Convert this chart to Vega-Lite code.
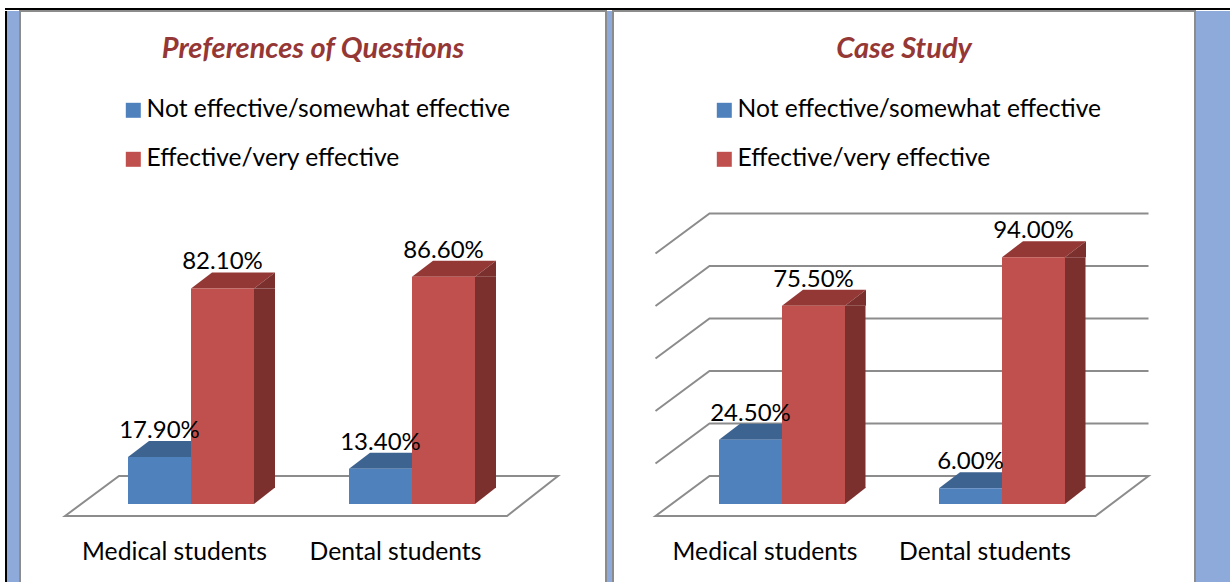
{
"$schema":"https://vega.github.io/schema/vega-lite/v6.json",
"padding":{"left":5,"top":8,"right":0,"bottom":0},
"background":"white",
"config":{"view":{"stroke":null},"concat":{"spacing":0},"font":"Lato"},
"datasets":{
"questions":[
{"group":"Medical students","series":"Not effective/somewhat effective","value":0.179},
{"group":"Medical students","series":"Effective/very effective","value":0.821},
{"group":"Dental students","series":"Not effective/somewhat effective","value":0.134},
{"group":"Dental students","series":"Effective/very effective","value":0.866}],
"caseStudy":[
{"group":"Medical students","series":"Not effective/somewhat effective","value":0.245},
{"group":"Medical students","series":"Effective/very effective","value":0.755},
{"group":"Dental students","series":"Not effective/somewhat effective","value":0.06},
{"group":"Dental students","series":"Effective/very effective","value":0.94}],
"floorOnly":[{"group":"Medical students","value":0}],
"gridLevels":[{"group":"Medical students","value":0.2},{"group":"Medical students","value":0.4},{"group":"Medical students","value":0.6},{"group":"Medical students","value":0.8},{"group":"Medical students","value":1}]
},
"vconcat":[
{"data":{"values":[]},"mark":"point","width":1225,"height":2,"view":{"fill":"black","stroke":null}},
{"hconcat":[
{"data":{"values":[]},"mark":"point","width":2,"height":572,"view":{"fill":"black","stroke":null}},
{"data":{"values":[]},"mark":"point","width":12,"height":572,"view":{"fill":"#8EAADB","stroke":null}},
{"width":586,"height":572,"view":{"fill":"white","stroke":"#8c8c8c","strokeWidth":2},
"data":{"name":"questions"},
"title":{"text":"Preferences of Questions","offset":-53,"fontSize":29,"fontWeight":"bold","fontStyle":"italic","color":"#953735","font":"Lato"},
"encoding":{
"x":{"field":"group","type":"nominal","sort":["Medical students","Dental students"],"scale":{"range":[45,487],"paddingInner":0,"paddingOuter":0},
"axis":{"title":null,"orient":"bottom","domain":false,"ticks":false,"grid":false,"labelAngle":0,"labelFontSize":24.7,"labelColor":"black","labelFont":"Lato","labelBaseline":"top","labelPadding":0,"offset":-44,"labelOffset":-1,"labelLimit":400}},
"xOffset":{"field":"series","type":"nominal","sort":["Not effective/somewhat effective","Effective/very effective"],"scale":{"range":[63,189],"paddingInner":0,"paddingOuter":0}},
"y":{"field":"value","type":"quantitative","scale":{"domain":[0,1],"range":[493,230.5],"nice":false,"zero":true},"axis":null}
},
"layer":[
{"data":{"name":"floorOnly"},"mark":{"type":"point","shape":"M-110.5,12L-56.5,-28L382.5,-28L331.5,12Z","size":4,"filled":false,"stroke":"#8c8c8c","strokeWidth":2,"opacity":1},"encoding":{"xOffset":null}},
{"transform":[{"filter":"datum.series==='Not effective/somewhat effective'"}],"mark":{"type":"point","shape":"M-31.5,0L31.5,0L52.5,-16L-10.5,-16Z","size":4,"filled":true,"fill":"#3D6390","opacity":1,"strokeWidth":0}},
{"transform":[{"filter":"datum.series==='Effective/very effective'"}],"mark":{"type":"point","shape":"M-31.5,0L31.5,0L52.5,-16L-10.5,-16Z","size":4,"filled":true,"fill":"#943835","opacity":1,"strokeWidth":0}},
{"transform":[{"filter":"datum.series==='Effective/very effective'"}],"mark":{"type":"point","shape":"M31.5,0L52.5,-16L52.5,0Z","size":4,"filled":true,"fill":"#7B302E","opacity":1,"strokeWidth":0}},
{"transform":[{"filter":"datum.series==='Effective/very effective'"}],"mark":{"type":"point","shape":"M31.5,-16.5L52.5,-16.5L31.5,0Z","size":4,"filled":true,"fill":"#7B302E","opacity":1,"strokeWidth":0},"encoding":{"y":{"datum":0,"type":"quantitative"}}},
{"transform":[{"filter":"datum.series==='Effective/very effective'"}],"mark":{"type":"bar","width":21,"xOffset":89,"y2Offset":-16,"fill":"#7B302E"},"encoding":{"xOffset":null,"y2":{"datum":0}}},
{"mark":{"type":"bar"},"encoding":{"y2":{"datum":0},
"color":{"field":"series","type":"nominal","sort":["Not effective/somewhat effective","Effective/very effective"],"scale":{"domain":["Not effective/somewhat effective","Effective/very effective"],"range":["#4F81BD","#C0504D"]},
"legend":{"title":null,"orient":"none","legendX":101,"legendY":87,"symbolType":"square","symbolSize":225,"symbolStrokeWidth":0,"labelFontSize":24.6,"labelFont":"Lato","labelColor":"black","labelOffset":1,"rowPadding":24,"labelLimit":500,"padding":0}}}},
{"mark":{"type":"text","fontSize":24,"font":"Lato","color":"black","baseline":"middle","dy":-26},"encoding":{"text":{"field":"value","type":"quantitative","format":".2%"}}}
]},
{"data":{"values":[]},"mark":"point","width":5,"height":572,"view":{"fill":"#8EAADB","stroke":null}},
{"width":582,"height":572,"view":{"fill":"white","stroke":"#8c8c8c","strokeWidth":2},
"data":{"name":"caseStudy"},
"title":{"text":"Case Study","offset":-53,"fontSize":29,"fontWeight":"bold","fontStyle":"italic","color":"#953735","font":"Lato"},
"encoding":{
"x":{"field":"group","type":"nominal","sort":["Medical students","Dental students"],"scale":{"range":[43,483],"paddingInner":0,"paddingOuter":0},
"axis":{"title":null,"orient":"bottom","domain":false,"ticks":false,"grid":false,"labelAngle":0,"labelFontSize":24.7,"labelColor":"black","labelFont":"Lato","labelBaseline":"top","labelPadding":0,"offset":-44,"labelOffset":-1,"labelLimit":400}},
"xOffset":{"field":"series","type":"nominal","sort":["Not effective/somewhat effective","Effective/very effective"],"scale":{"range":[63,189],"paddingInner":0,"paddingOuter":0}},
"y":{"field":"value","type":"quantitative","scale":{"domain":[0,1],"range":[493,230.5],"nice":false,"zero":true},"axis":null}
},
"layer":[
{"data":{"name":"floorOnly"},"mark":{"type":"point","shape":"M-110.5,12L-56.5,-28L382.5,-28L329.5,12Z","size":4,"filled":false,"stroke":"#8c8c8c","strokeWidth":2,"opacity":1},"encoding":{"xOffset":null}},
{"data":{"name":"gridLevels"},"mark":{"type":"point","shape":"M-110.5,12L-56.5,-28L382.5,-28","size":4,"filled":false,"stroke":"#8c8c8c","strokeWidth":2,"opacity":1},"encoding":{"xOffset":null}},
{"transform":[{"filter":"datum.series==='Not effective/somewhat effective'"}],"mark":{"type":"point","shape":"M-31.5,0L31.5,0L52.5,-16L-10.5,-16Z","size":4,"filled":true,"fill":"#3D6390","opacity":1,"strokeWidth":0}},
{"transform":[{"filter":"datum.series==='Effective/very effective'"}],"mark":{"type":"point","shape":"M-31.5,0L31.5,0L52.5,-16L-10.5,-16Z","size":4,"filled":true,"fill":"#943835","opacity":1,"strokeWidth":0}},
{"transform":[{"filter":"datum.series==='Effective/very effective'"}],"mark":{"type":"point","shape":"M31.5,0L52.5,-16L52.5,0Z","size":4,"filled":true,"fill":"#7B302E","opacity":1,"strokeWidth":0}},
{"transform":[{"filter":"datum.series==='Effective/very effective'"}],"mark":{"type":"point","shape":"M31.5,-16.5L52.5,-16.5L31.5,0Z","size":4,"filled":true,"fill":"#7B302E","opacity":1,"strokeWidth":0},"encoding":{"y":{"datum":0,"type":"quantitative"}}},
{"transform":[{"filter":"datum.series==='Effective/very effective'"}],"mark":{"type":"bar","width":21,"xOffset":89,"y2Offset":-16,"fill":"#7B302E"},"encoding":{"xOffset":null,"y2":{"datum":0}}},
{"mark":{"type":"bar"},"encoding":{"y2":{"datum":0},
"color":{"field":"series","type":"nominal","sort":["Not effective/somewhat effective","Effective/very effective"],"scale":{"domain":["Not effective/somewhat effective","Effective/very effective"],"range":["#4F81BD","#C0504D"]},
"legend":{"title":null,"orient":"none","legendX":99,"legendY":87,"symbolType":"square","symbolSize":225,"symbolStrokeWidth":0,"labelFontSize":24.6,"labelFont":"Lato","labelColor":"black","labelOffset":1,"rowPadding":24,"labelLimit":500,"padding":0}}}},
{"mark":{"type":"text","fontSize":24,"font":"Lato","color":"black","baseline":"middle","dy":-26},"encoding":{"text":{"field":"value","type":"quantitative","format":".2%"}}}
]
},
{"data":{"values":[]},"mark":"point","width":37,"height":572,"view":{"fill":"#8EAADB","stroke":null}}
],"resolve":{"scale":{"color":"independent"},"legend":{"color":"independent"}}}
]
}
